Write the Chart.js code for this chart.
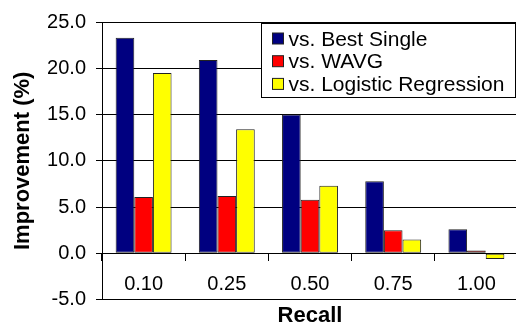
<!DOCTYPE html>
<html><head><meta charset="utf-8">
<script src="https://cdn.jsdelivr.net/npm/chart.js@4/dist/chart.umd.min.js"></script>
<style>html,body{margin:0;padding:0;background:#fff;overflow:hidden;}#wrap{width:518px;height:329px;position:relative;}</style>
</head><body><div id="wrap"><canvas id="c"></canvas></div>
<script>
const categories = ['0.10', '0.25', '0.50', '0.75', '1.00'];
const seriesNames = ['vs. Best Single', 'vs. WAVG', 'vs. Logistic Regression'];
const bestSingle = [23.3, 20.9, 15.0, 7.8, 2.6];
const wavg = [6.1, 6.2, 5.8, 2.5, 0.3];
const logistic = [19.5, 13.4, 7.3, 1.5, -0.6];
const yMin = -5, yMax = 25, yStep = 5;
const xTitle = 'Recall';
const yTitle = 'Improvement (%)';
const seriesColors = ['#000080', '#FF0000', '#FFFF00'];

Chart.defaults.font.family = '"Liberation Sans", Arial, sans-serif';
Chart.defaults.color = '#000';

const legendPlugin = {
  id: 'boxLegend',
  afterDraw(chart) {
    const ctx = chart.ctx;
    const x0 = 261.5, y0 = 23.5, w = 254, h = 74;
    ctx.save();
    ctx.fillStyle = '#fff';
    ctx.fillRect(x0, y0, w, h);
    ctx.strokeStyle = '#000';
    ctx.lineWidth = 1;
    ctx.strokeRect(x0, y0, w, h);
    ctx.font = '21px "Liberation Sans", Arial, sans-serif';
    ctx.textBaseline = 'middle';
    ctx.textAlign = 'left';
    chart.data.datasets.forEach((ds, i) => {
      const cy = 39 + i * 22.7;
      ctx.fillStyle = ds.backgroundColor;
      ctx.fillRect(272.5, cy - 6, 11, 11);
      ctx.strokeStyle = '#222';
      ctx.strokeRect(272.5, cy - 6, 11, 11);
      ctx.fillStyle = '#000';
      ctx.fillText(ds.label, 288.5, cy + 1);
    });
    ctx.restore();
  }
};

new Chart(document.getElementById('c'), {
  type: 'bar',
  data: {
    labels: categories,
    datasets: [
      { label: seriesNames[0], data: bestSingle, backgroundColor: seriesColors[0] },
      { label: seriesNames[1], data: wavg, backgroundColor: seriesColors[1] },
      { label: seriesNames[2], data: logistic, backgroundColor: seriesColors[2] }
    ]
  },
  options: {
    responsive: true,
    maintainAspectRatio: false,
    animation: false,
    devicePixelRatio: 1,
    layout: { padding: { left: 0, top: 18, right: 0, bottom: 0 } },
    datasets: {
      bar: {
        categoryPercentage: 0.672,
        barPercentage: 1.0,
        borderColor: '#222',
        borderWidth: 1,
        borderSkipped: false
      }
    },
    plugins: {
      legend: { display: false },
      tooltip: { enabled: false },
      title: {
        display: true,
        fullSize: false,
        text: xTitle,
        position: 'bottom',
        font: { size: 22, weight: 'bold' },
        color: '#000',
        padding: { top: 3, bottom: 0 }
      }
    },
    scales: {
      x: {
        position: { y: 0 },
        afterFit: (s) => { s.height = 0; },
        grid: { drawOnChartArea: false, offset: true, drawTicks: true, tickLength: 7, color: '#000' },
        border: { display: true, color: '#000', width: 1 },
        ticks: { font: { size: 20 }, padding: 12, color: '#000' }
      },
      y: {
        min: yMin,
        max: yMax,
        afterFit: (s) => { s.width = 102; },
        ticks: {
          stepSize: yStep,
          font: { size: 20 },
          padding: 10,
          color: '#000',
          callback: (v) => Number(v).toFixed(1)
        },
        grid: { color: '#000', tickLength: 6, drawTicks: true },
        border: { display: true, color: '#000', width: 1 },
        title: {
          display: true,
          text: yTitle,
          font: { size: 22, weight: 'bold' },
          color: '#000',
          padding: { top: 10, bottom: 0 }
        }
      }
    }
  },
  plugins: [legendPlugin]
});
</script>
</body></html>
